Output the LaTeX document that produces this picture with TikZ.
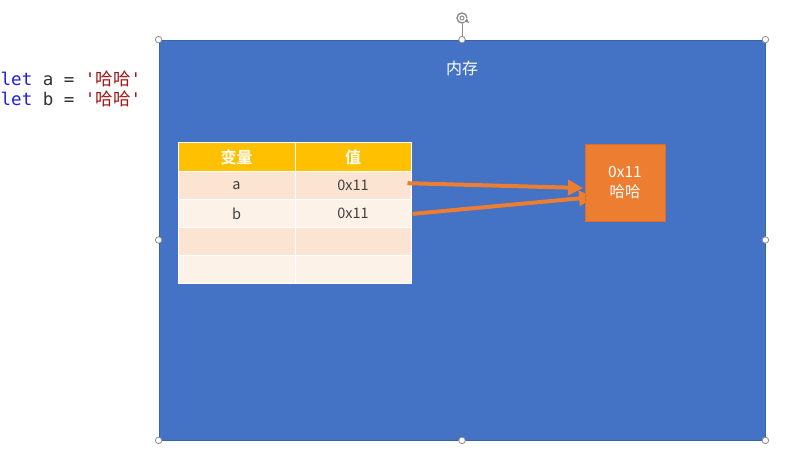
\documentclass[tikz,border=0pt]{standalone}
\usepackage{fontspec}
\newfontfamily\cjk{Noto Sans CJK SC}[BoldFont={Noto Sans CJK SC Bold}]
\newfontfamily\codefont{DejaVu Sans Mono}
\usetikzlibrary{arrows.meta,calc}
\definecolor{memblue}{HTML}{4472C4}
\definecolor{memedge}{HTML}{3A62A8}
\definecolor{headgold}{HTML}{FFC000}
\definecolor{rowdark}{HTML}{FBE4D2}
\definecolor{rowlight}{HTML}{FDF2E8}
\definecolor{objorange}{HTML}{ED7D31}
\definecolor{objedge}{HTML}{D8702A}
\definecolor{celltext}{HTML}{404040}
\definecolor{kwblue}{HTML}{1F1FD8}
\definecolor{strred}{HTML}{A31515}
\definecolor{plain}{HTML}{333333}
\definecolor{handlegray}{HTML}{8C8C8C}
\tikzset{
  memrect/.style={draw=memedge, line width=0.8pt, fill=memblue, inner sep=0pt,
    minimum width=606pt, minimum height=400pt},
  memlabel/.style={text=white, font=\cjk\fontsize{16}{18}\selectfont, inner sep=0pt},
  cellbase/.style={draw=white, line width=1pt, inner sep=0pt, minimum height=28.2pt},
  colA/.style={minimum width=117pt},
  colB/.style={minimum width=116pt},
  headcell/.style={cellbase, fill=headgold, text=white, font=\cjk\bfseries\fontsize{16}{18}\selectfont},
  darkcell/.style={cellbase, fill=rowdark, text=celltext, font=\cjk\fontsize{14.5}{16}\selectfont},
  lightcell/.style={cellbase, fill=rowlight, text=celltext, font=\cjk\fontsize{14.5}{16}\selectfont},
  objbox/.style={draw=objedge, line width=0.8pt, fill=objorange, text=white, inner sep=0pt,
    minimum width=80pt, minimum height=77pt, align=center,
    font=\cjk\fontsize{15.5}{19.5}\selectfont},
  pointer/.style={draw=objorange, line width=4pt,
    -{Triangle[length=15pt,width=15pt]}},
  handle/.style={circle, draw=handlegray, fill=white, line width=0.8pt,
    inner sep=0pt, minimum size=6.5pt},
  codeline/.style={anchor=base west, inner sep=0pt, font=\codefont\fontsize{17.5}{20}\selectfont}
}
\begin{document}
\begin{tikzpicture}[x=1pt,y=-1pt]
\useasboundingbox (0,0) rectangle (788,453);
\fill[white] (0,0) rectangle (788,453);

% source code on the left
\node[codeline] (code1) at (0.5,85.5) {\textcolor{kwblue}{let}\textcolor{plain}{\ a\ =\ }\textcolor{strred}{'{\cjk 哈哈}'}};
\node[codeline] (code2) at (0.5,105.5) {\textcolor{kwblue}{let}\textcolor{plain}{\ b\ =\ }\textcolor{strred}{'{\cjk 哈哈}'}};

% memory area
\node[memrect] (mem) at (462,240) {};
\node[memlabel] (memtitle) at (462,68) {内存};

% selection handles and rotation handle
\foreach \a/\n in {north west/nw, north/n, north east/ne, east/e, south east/se, south/s, south west/sw, west/w}
  \node[handle] (hd-\n) at (mem.\a) {};
\coordinate (rot) at (462,18);
\draw[handlegray, line width=0.8pt] ($(rot)+(0,5.5)$) -- (hd-n.north);
\draw[handlegray, line width=1.4pt] ($(rot)+(5,0)$) arc[start angle=0, end angle=300, radius=5pt];
\draw[handlegray, line width=1pt] (rot) circle[radius=2pt];
\fill[handlegray] ($(rot)+(2.3,3.6)$) -- ($(rot)+(7,5)$) -- ($(rot)+(5,0.5)$) -- cycle;

% variable table
\node[headcell, colA] (hname) at (236.5,157) {变量};
\node[headcell, colB] (hval)  at (353,157)   {值};
\node[darkcell, colA]  (na) at (236.5,185.2) {a};
\node[darkcell, colB]  (va) at (353,185.2)   {0x11};
\node[lightcell, colA] (nb) at (236.5,213.4) {b};
\node[lightcell, colB] (vb) at (353,213.4)   {0x11};
\node[darkcell, colA]  (n3) at (236.5,241.6) {};
\node[darkcell, colB]  (v3) at (353,241.6)   {};
\node[lightcell, colA] (n4) at (236.5,269.8) {};
\node[lightcell, colB] (v4) at (353,269.8)   {};

% pointers to the stored value
\coordinate (tipA) at (583,188);
\coordinate (tipB) at (594,197);
\draw[pointer] ($(va.east)+(-4,-2)$) -- (tipA);
\draw[pointer] ($(vb.east)+(1,0.5)$) -- (tipB);

% stored object
\node[objbox] (obj) at (625,182.5) {0x11\\哈哈};
\end{tikzpicture}
\end{document}
